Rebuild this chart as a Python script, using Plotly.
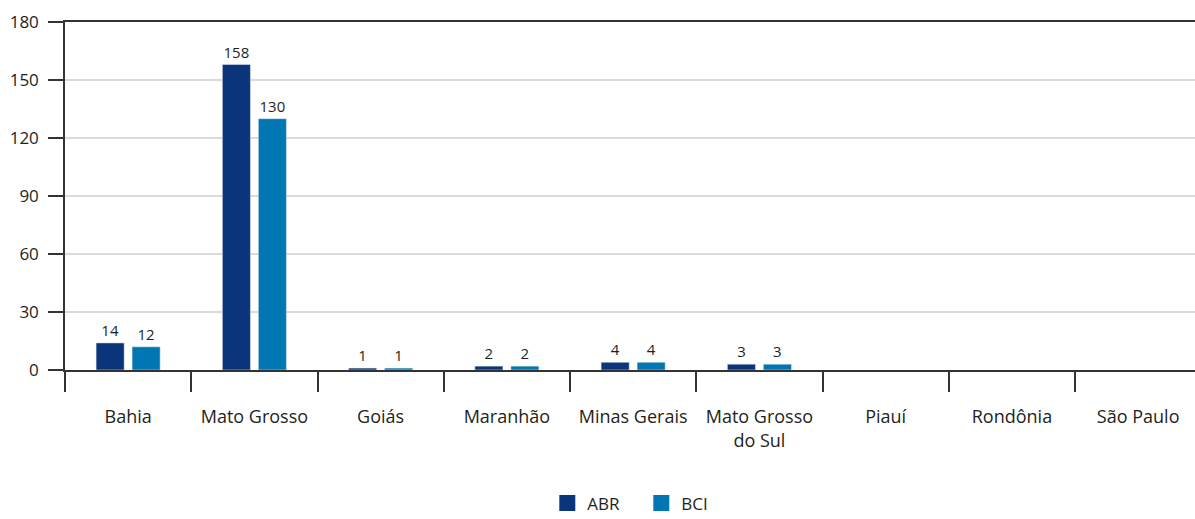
import plotly.graph_objects as go

categories = ["Bahia", "Mato Grosso", "Goiás", "Maranhão", "Minas Gerais",
              "Mato Grosso<br>do Sul", "Piauí", "Rondônia", "São Paulo"]
abr = [14, 158, 1, 2, 4, 3, None, None, None]
bci = [12, 130, 1, 2, 4, 3, None, None, None]
y_ticks = [0, 30, 60, 90, 120, 150, 180]

FONT = "Open Sans"
TXT = "#231f20"
C_ABR = "#0b357b"
C_BCI = "#0077b3"

fig = go.Figure()
fig.add_trace(go.Bar(name="ABR", x=categories, y=abr, marker_color=C_ABR,
                     text=abr, textposition="outside", cliponaxis=False,
                     textfont=dict(size=15, color=TXT, family=FONT), showlegend=False))
fig.add_trace(go.Bar(name="BCI", x=categories, y=bci, marker_color=C_BCI,
                     text=bci, textposition="outside", cliponaxis=False,
                     textfont=dict(size=15, color=TXT, family=FONT), showlegend=False))
# legend entries with square swatches
for name, col in [("ABR", C_ABR), ("BCI", C_BCI)]:
    fig.add_trace(go.Scatter(name=name, x=[None], y=[None], mode="markers",
                             marker=dict(symbol="square", size=16, color=col),
                             showlegend=True))

fig.update_layout(
    width=1195, height=519,
    margin=dict(l=65, r=0, t=22, b=149),
    paper_bgcolor="white", plot_bgcolor="white",
    barmode="group", bargap=0.43, bargroupgap=0.22,
    font=dict(family=FONT, size=17, color=TXT),
    showlegend=True,
    legend=dict(orientation="h", x=0.51, xanchor="center", xref="paper",
                yref="container", y=0.03, yanchor="middle",
                font=dict(size=17, color=TXT), itemwidth=30, entrywidth=49,
                traceorder="normal"),
)
fig.update_xaxes(type="category", range=[-0.5, 8.45], tickson="boundaries",
                 ticks="outside", ticklen=20, tickcolor="#333333", tickwidth=1.5,
                 showline=True, linecolor="#333333", linewidth=1.5, mirror=True,
                 showgrid=False, tickfont=dict(size=18, color=TXT),
                 ticklabelstandoff=30, automargin=False)
fig.update_yaxes(range=[0, 180], tickvals=y_ticks, ticks="outside", ticklen=15,
                 tickcolor="#333333", tickwidth=1.5, showline=True,
                 linecolor="#333333", linewidth=1.5, showgrid=True,
                 gridcolor="#dadada", gridwidth=1.5, zeroline=False,
                 tickfont=dict(size=17, color=TXT), ticklabelstandoff=6,
                 automargin=False)

fig.write_html("out.html", config={"displayModeBar": False},
               post_script="document.body.style.margin='0';")
